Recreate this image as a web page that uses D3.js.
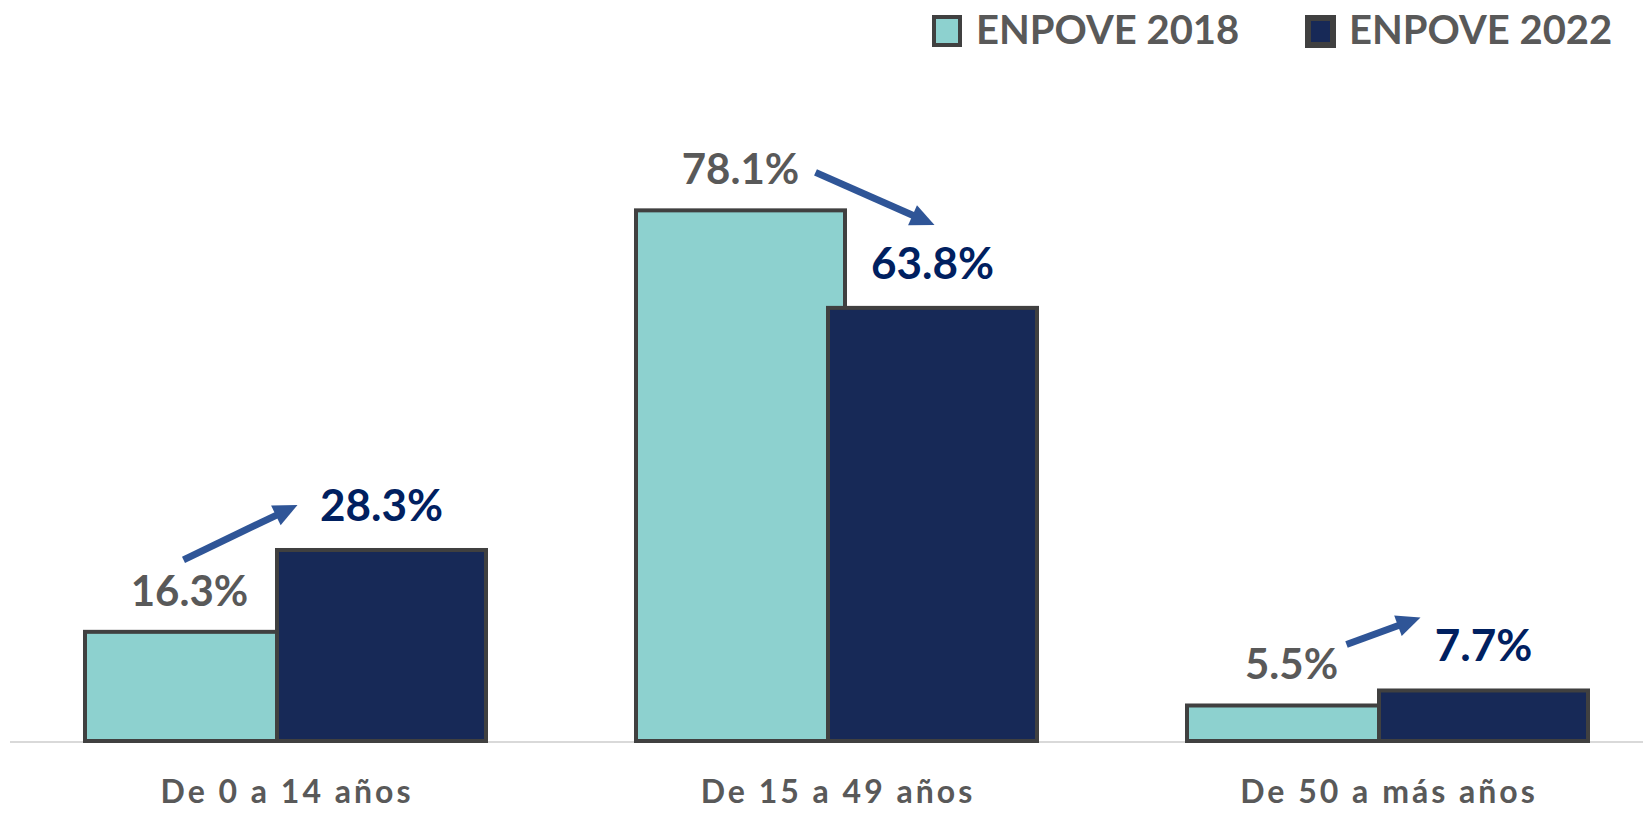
<!DOCTYPE html>
<html>
<head>
<meta charset="utf-8">
<script src="https://cdn.jsdelivr.net/npm/d3@7"></script>
<style>
    body { margin: 0; background: #fff; }
    text { font-family: Lato, "Open Sans", sans-serif; font-weight: 700; }
</style>
</head>
<body>
<div id="chart"></div>
<script>
// data
var categories = ["De 0 a 14 años", "De 15 a 49 años", "De 50 a más años"];
var series = ["ENPOVE 2018", "ENPOVE 2022"];
var values2018 = [16.3, 78.1, 5.5];
var values2022 = [28.3, 63.8, 7.7];

var width = 1643, height = 814;
var colors = { "ENPOVE 2018": "#8DD1CF", "ENPOVE 2022": "#172957" };
var labelColors = { "ENPOVE 2018": "#595959", "ENPOVE 2022": "#002060" };
var labelSizes = { "ENPOVE 2018": 42, "ENPOVE 2022": 44 };

var rows = [];
categories.forEach((c, i) => {
    rows.push({ cat: c, s: series[0], v: values2018[i] });
    rows.push({ cat: c, s: series[1], v: values2022[i] });
});

var svg = d3.select("#chart").append("svg")
    .attr("width", width)
    .attr("height", height);

var x0 = d3.scaleBand().domain(categories).range([10, 1663]).padding(0);
var x1 = d3.scalePoint().domain(series).range([-96, 96]);
var y = d3.scaleLinear().domain([0, 100]).range([741, 59]);
var barW = 213;

var cx = d => x0(d.cat) + x0.bandwidth() / 2 + x1(d.s);

// axis line
svg.append("line")
    .attr("x1", 10).attr("x2", width)
    .attr("y1", y(0) + 1).attr("y2", y(0) + 1)
    .attr("stroke", "#D9D9D9")
    .attr("stroke-width", 2);

// bars (2022 drawn after 2018 so it overlaps)
svg.selectAll("rect.bar")
    .data(rows)
    .enter()
    .append("rect")
    .attr("class", "bar")
    .attr("x", d => cx(d) - barW / 2 + 2)
    .attr("y", d => y(d.v) + 2)
    .attr("width", barW - 4)
    .attr("height", d => y(0) - y(d.v) - 2)
    .attr("fill", d => colors[d.s])
    .attr("stroke", "#404040")
    .attr("stroke-width", 4);

// value labels
svg.selectAll("text.val")
    .data(rows)
    .enter()
    .append("text")
    .attr("class", "val")
    .attr("x", d => cx(d))
    .attr("y", d => y(d.v) - (d.s === series[0] ? 24 : 27))
    .attr("text-anchor", "middle")
    .attr("font-size", d => labelSizes[d.s])
    .attr("fill", d => labelColors[d.s])
    .text(d => d.v.toFixed(1) + "%");

// category labels
svg.selectAll("text.cat")
    .data(categories)
    .enter()
    .append("text")
    .attr("class", "cat")
    .attr("x", d => x0(d) + x0.bandwidth() / 2 + 1.5)
    .attr("y", 803)
    .attr("text-anchor", "middle")
    .attr("font-size", 32)
    .attr("letter-spacing", "3px")
    .attr("fill", "#595959")
    .text(d => d);

// arrows: tail offset from 2018 bar top-centre, tip offset from 2022 bar top-centre
var arrowNudge = [
    { t: [-6, -70], h: [-84, -43] },
    { t: [75, -36], h: [2, -81] },
    { t: [55, -59], h: [-63, -71] }
];
categories.forEach((c, i) => {
    var a = { cat: c, s: series[0], v: values2018[i] };
    var b = { cat: c, s: series[1], v: values2022[i] };
    var tx = cx(a) + arrowNudge[i].t[0], ty = y(a.v) + arrowNudge[i].t[1];
    var hx = cx(b) + arrowNudge[i].h[0], hy = y(b.v) + arrowNudge[i].h[1];
    var len = Math.hypot(hx - tx, hy - ty);
    var ux = (hx - tx) / len, uy = (hy - ty) / len;
    var headL = 24, headW = 22;
    var bx = hx - ux * headL, by = hy - uy * headL;
    svg.append("line")
        .attr("x1", tx).attr("y1", ty)
        .attr("x2", bx + ux * 2).attr("y2", by + uy * 2)
        .attr("stroke", "#2F5597")
        .attr("stroke-width", 7);
    svg.append("path")
        .attr("d", "M" + hx + "," + hy +
            "L" + (bx - uy * headW / 2) + "," + (by + ux * headW / 2) +
            "L" + (bx + uy * headW / 2) + "," + (by - ux * headW / 2) + "Z")
        .attr("fill", "#2F5597");
});

// legend
var legendX = [934, 1307];
var legend = svg.selectAll("g.legend")
    .data(series)
    .enter()
    .append("g")
    .attr("class", "legend")
    .attr("transform", (d, i) => "translate(" + legendX[i] + ",0)");

legend.append("rect")
    .attr("x", (d, i) => i === 0 ? 0 : 1)
    .attr("y", (d, i) => i === 0 ? 17 : 18)
    .attr("width", (d, i) => i === 0 ? 26 : 25)
    .attr("height", (d, i) => i === 0 ? 28 : 27)
    .attr("fill", d => colors[d])
    .attr("stroke", "#404040")
    .attr("stroke-width", (d, i) => i === 0 ? 4 : 6);

legend.append("text")
    .attr("x", 42)
    .attr("y", 44)
    .attr("font-size", 40)
    .attr("fill", "#595959")
    .text(d => d);
</script>
</body>
</html>
